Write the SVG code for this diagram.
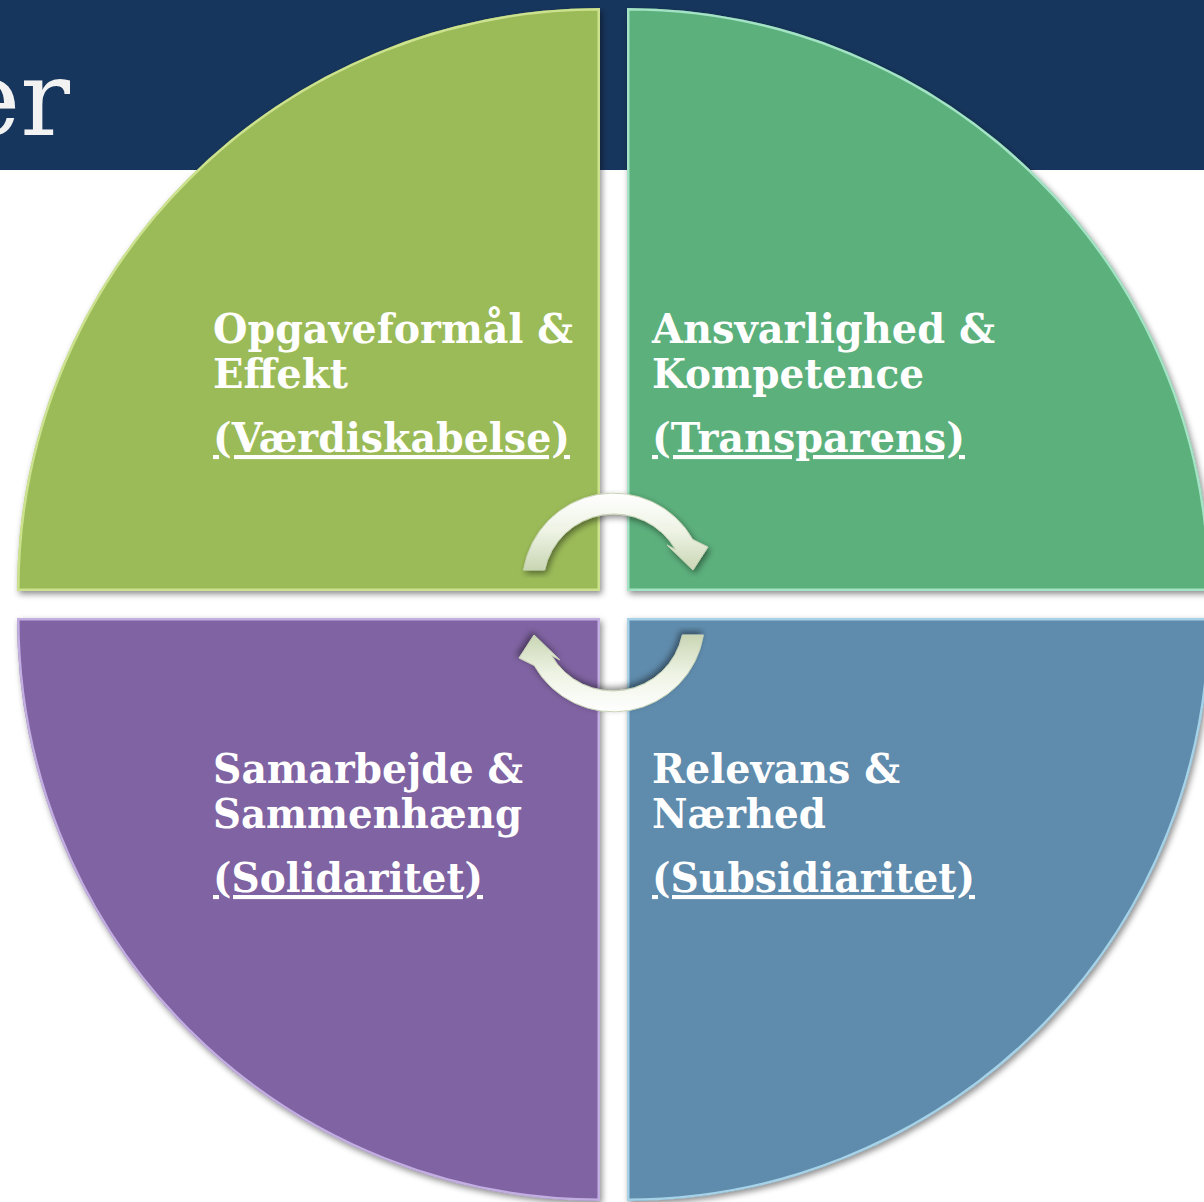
<svg xmlns="http://www.w3.org/2000/svg" width="1204" height="1202" viewBox="0 0 1204 1202">
<defs>
<style>
.lbl{font-family:"DejaVu Serif","Liberation Serif",serif;font-weight:bold;font-size:41px;fill:#ffffff}
.u{text-decoration:underline}
.title{font-family:"DejaVu Serif","Liberation Serif",serif;font-size:104px;fill:#f2f2f2}
</style>
<filter id="sh" x="-10%" y="-10%" width="120%" height="120%">
<feGaussianBlur in="SourceAlpha" stdDeviation="3"/>
<feOffset dx="2" dy="3" result="b"/>
<feFlood flood-color="#000" flood-opacity="0.45"/>
<feComposite in2="b" operator="in"/>
<feMerge><feMergeNode/><feMergeNode in="SourceGraphic"/></feMerge>
</filter>
<linearGradient id="arrowG" x1="0" y1="0" x2="0" y2="1">
<stop offset="0" stop-color="#ffffff"/>
<stop offset="0.5" stop-color="#eef3e4"/>
<stop offset="1" stop-color="#c9d6b4"/>
</linearGradient>
<clipPath id="cTL"><path d="M600,591 L17,591 A583,583 0 0 1 600,8 Z"/></clipPath>
<clipPath id="cTR"><path d="M627,591 L627,8 A583,583 0 0 1 1210,591 Z"/></clipPath>
<clipPath id="cBL"><path d="M600,618 L600,1201 A583,583 0 0 1 17,618 Z"/></clipPath>
<clipPath id="cBR"><path d="M627,618 L1210,618 A583,583 0 0 1 627,1201 Z"/></clipPath>
<path id="arrow" d="M523.6,570 A91,91 0 0 1 692.8,539.5 L708,547 L693,570 L667,545 L675.5,549.5 A71,71 0 0 0 544.6,570 Z"/>
</defs>
<rect width="1204" height="1202" fill="#ffffff"/>
<rect x="0" y="0" width="1204" height="170" fill="#17365d"/>
<text class="title" x="70" y="135" text-anchor="end">er</text>

<g id="node-tl">
<path d="M600,591 L17,591 A583,583 0 0 1 600,8 Z" fill="#9bbb59" filter="url(#sh)"/>
<path d="M600,591 L17,591 A583,583 0 0 1 600,8 Z" fill="none" stroke="#d9ec9c" stroke-width="5" clip-path="url(#cTL)" opacity="0.8"/>
<text class="lbl" x="213" y="343" textLength="360" lengthAdjust="spacingAndGlyphs">Opgaveformål &amp;</text>
<text class="lbl" x="213" y="388" textLength="135" lengthAdjust="spacingAndGlyphs">Effekt</text>
<text class="lbl u" x="213" y="452" textLength="357" lengthAdjust="spacingAndGlyphs">(Værdiskabelse)</text>
</g>
<g id="node-tr">
<path d="M627,591 L627,8 A583,583 0 0 1 1210,591 Z" fill="#5bb07c" filter="url(#sh)"/>
<path d="M627,591 L627,8 A583,583 0 0 1 1210,591 Z" fill="none" stroke="#b6f0d8" stroke-width="5" clip-path="url(#cTR)" opacity="0.8"/>
<text class="lbl" x="652" y="343" textLength="343" lengthAdjust="spacingAndGlyphs">Ansvarlighed &amp;</text>
<text class="lbl" x="652" y="388" textLength="272" lengthAdjust="spacingAndGlyphs">Kompetence</text>
<text class="lbl u" x="652" y="452" textLength="313" lengthAdjust="spacingAndGlyphs">(Transparens)</text>
</g>
<g id="node-bl">
<path d="M600,618 L600,1201 A583,583 0 0 1 17,618 Z" fill="#8064a2" filter="url(#sh)"/>
<path d="M600,618 L600,1201 A583,583 0 0 1 17,618 Z" fill="none" stroke="#d2c0f0" stroke-width="5" clip-path="url(#cBL)" opacity="0.8"/>
<text class="lbl" x="213" y="783" textLength="310" lengthAdjust="spacingAndGlyphs">Samarbejde &amp;</text>
<text class="lbl" x="213" y="828" textLength="309" lengthAdjust="spacingAndGlyphs">Sammenhæng</text>
<text class="lbl u" x="213" y="892" textLength="270" lengthAdjust="spacingAndGlyphs">(Solidaritet)</text>
</g>
<g id="node-br">
<path d="M627,618 L1210,618 A583,583 0 0 1 627,1201 Z" fill="#5f8bac" filter="url(#sh)"/>
<path d="M627,618 L1210,618 A583,583 0 0 1 627,1201 Z" fill="none" stroke="#b8e4f6" stroke-width="5" clip-path="url(#cBR)" opacity="0.8"/>
<text class="lbl" x="652" y="783" textLength="248" lengthAdjust="spacingAndGlyphs">Relevans &amp;</text>
<text class="lbl" x="652" y="828" textLength="174" lengthAdjust="spacingAndGlyphs">Nærhed</text>
<text class="lbl u" x="652" y="892" textLength="323" lengthAdjust="spacingAndGlyphs">(Subsidiaritet)</text>
</g>

<g id="connectors">
<use href="#arrow" fill="url(#arrowG)" stroke="#c8d3b6" stroke-width="1" filter="url(#sh)"/>
<use href="#arrow" transform="rotate(180 613.5 602.5)" fill="url(#arrowG)" stroke="#c8d3b6" stroke-width="1" filter="url(#sh)"/>
</g>
</svg>
